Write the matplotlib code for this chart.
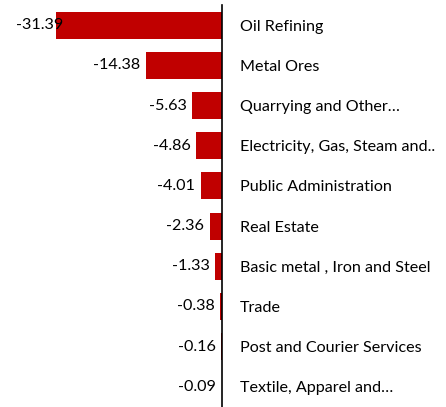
import matplotlib
matplotlib.use("Agg")
import matplotlib.pyplot as plt

categories = ["Oil Refining", "Metal Ores", "Quarrying and Other\u2026",
              "Electricity, Gas, Steam and..", "Public Administration",
              "Real Estate", "Basic metal , Iron and Steel", "Trade",
              "Post and Courier Services", "Textile, Apparel and\u2026"]
values = [-31.39, -14.38, -5.63, -4.86, -4.01, -2.36, -1.33, -0.38, -0.16, -0.09]

plt.rcParams['font.family'] = ['Lato', 'DejaVu Sans']

fig = plt.figure(figsize=(4.46, 4.07), dpi=100)
ax = fig.add_axes([0, 0, 0.4978, 1 - 5 / 407])

y = list(range(len(categories)))
ax.barh(y, values, height=0.67, color='#C00000')
ax.set_xlim(-42, 0)
ax.set_ylim(len(categories) - 0.5, -0.5)

labels = []
for yi, v in zip(y, values):
    t = ax.annotate('%.2f' % v, (v, yi), xytext=(-4, 0), textcoords='offset points',
                    ha='right', va='center', fontsize=11.6, color='black')
    labels.append(t)

for s in ['top', 'bottom', 'left']:
    ax.spines[s].set_visible(False)
ax.spines['right'].set_linewidth(1.2)
ax.spines['right'].set_color('black')
ax.set_xticks([])
ax.yaxis.tick_right()
ax.set_yticks(y)
ax.set_yticklabels(categories, fontsize=11.6)
ax.tick_params(axis='y', length=0, pad=13)

# keep labels that run off the left edge inside the figure (they overlap the bar, like Excel)
fig.canvas.draw()
r = fig.canvas.get_renderer()
for t in labels:
    bb = t.get_window_extent(r)
    if bb.x0 < 16:
        t.set_position((-4 + (16 - bb.x0) * 0.72, 0))

fig.savefig("out.png", dpi=100)
